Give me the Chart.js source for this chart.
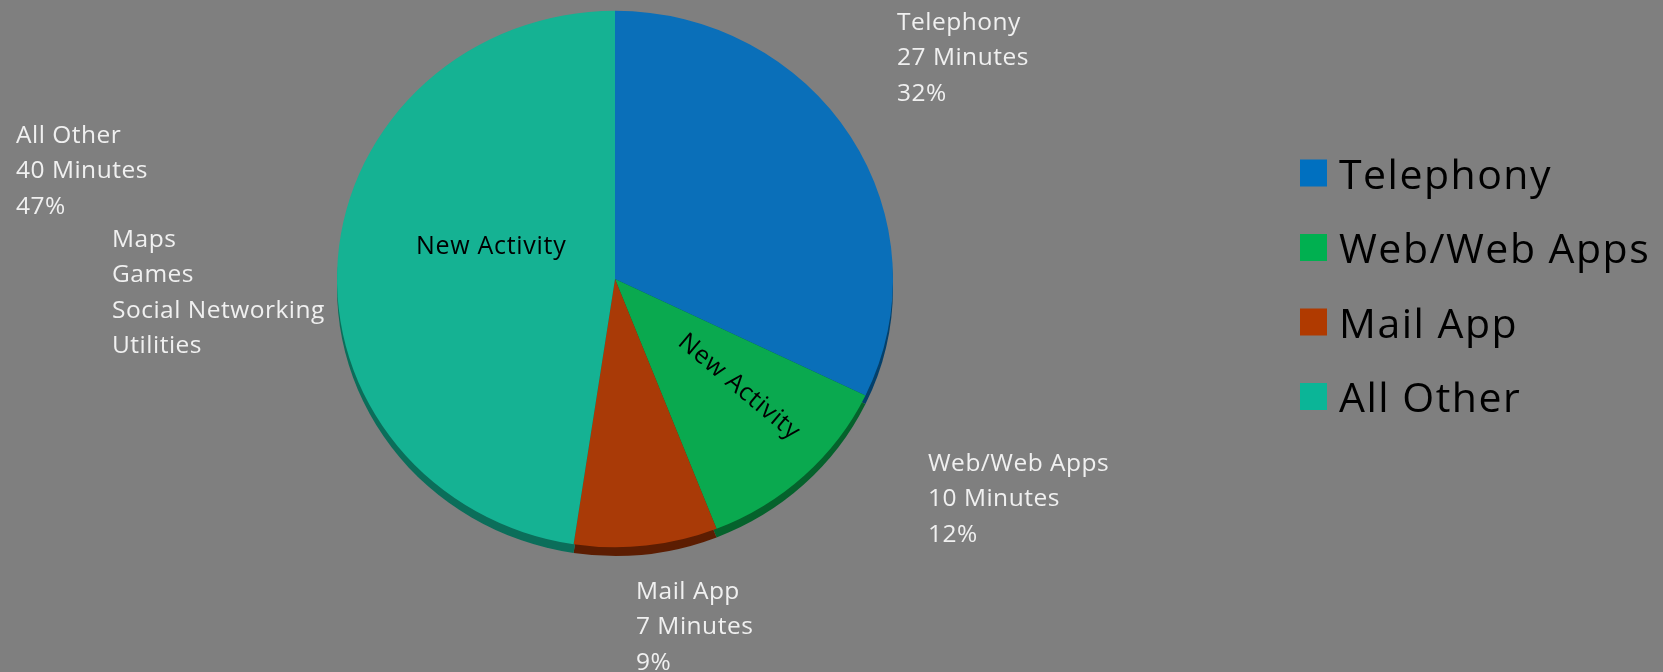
<!DOCTYPE html>
<html>
<head>
<meta charset="utf-8">
<script src="https://cdn.jsdelivr.net/npm/chart.js@4"></script>
<style>
  html, body { margin: 0; padding: 0; background: #7f7f7f; }
  #wrap { width: 1663px; height: 672px; position: relative; }
</style>
</head>
<body>
<div id="wrap"><canvas id="pieChart"></canvas></div>
<script>
// chart data
const categories = ['Telephony', 'Web/Web Apps', 'Mail App', 'All Other'];
const minutes = [27, 10, 7, 40];
const percentLabels = ['32%', '12%', '9%', '47%'];
const sliceColors = ['#0a6fb9', '#0aa94f', '#a93a07', '#15b293'];
const rimColors = ['#04406b', '#05622c', '#5c1d02', '#0b6e5a'];
const legendColors = ['#0070c0', '#00b050', '#b03a00', '#0bb597'];
const otherApps = ['Maps', 'Games', 'Social Networking', 'Utilities'];

const FONT = '"Open Sans", "Noto Sans", sans-serif';
const TILT = 0.965;   // slight vertical squash, like the tilted original

// squash the pie a little and draw a dark rim under it
const rimPlugin = {
    id: 'rim',
    beforeDatasetsDraw(chart) {
        const ctx = chart.ctx;
        const meta = chart.getDatasetMeta(0);
        const c = meta.data[0];
        ctx.save();
        ctx.translate(c.x, c.y);
        ctx.scale(1, TILT);
        ctx.translate(-c.x, -c.y);
        meta.data.forEach((arc, i) => {
            const p = arc.getProps(['x', 'y', 'startAngle', 'endAngle', 'outerRadius']);
            ctx.beginPath();
            ctx.moveTo(p.x, p.y + 9);
            ctx.arc(p.x, p.y + 9, p.outerRadius, p.startAngle, p.endAngle);
            ctx.closePath();
            ctx.fillStyle = rimColors[i];
            ctx.fill();
        });
    },
    afterDatasetsDraw(chart) {
        chart.ctx.restore();
    }
};

// text labels and legend
const labelPlugin = {
    id: 'labels',
    afterDraw(chart) {
        const ctx = chart.ctx;
        ctx.save();
        ctx.textBaseline = 'middle';
        ctx.textAlign = 'left';

        // outside labels
        ctx.fillStyle = '#f0f0f0';
        ctx.font = '24.5px ' + FONT;
        ctx.letterSpacing = '0.5px';
        const spots = [[897, 23], [928, 464], [636, 592], [16, 136]];
        spots.forEach((s, i) => {
            const lines = [categories[i], minutes[i] + ' Minutes', percentLabels[i]];
            lines.forEach((t, j) => ctx.fillText(t, s[0], s[1] + j * 35.5));
        });
        otherApps.forEach((t, j) => ctx.fillText(t, 112, 240 + j * 35.3));

        // "New Activity" notes inside slices
        ctx.fillStyle = '#000';
        ctx.font = '25px ' + FONT;
        ctx.letterSpacing = '0.7px';
        ctx.fillText('New Activity', 416, 247);
        ctx.save();
        ctx.translate(739, 387);
        ctx.rotate(40 * Math.PI / 180);
        ctx.textAlign = 'center';
        ctx.fillText('New Activity', 0, 0);
        ctx.restore();

        // legend
        ctx.font = '41px ' + FONT;
        ctx.letterSpacing = '1.5px';
        categories.forEach((c, i) => {
            const y = 173 + i * 74.5;
            ctx.fillStyle = legendColors[i];
            ctx.fillRect(1300, y - 13.5, 27, 27);
            ctx.fillStyle = '#000';
            ctx.fillText(c, 1339, y + 4);
        });
        ctx.restore();
    }
};

const ctx = document.getElementById('pieChart').getContext('2d');
window.myChart = new Chart(ctx, {
    type: 'pie',
    data: {
        labels: categories,
        datasets: [{
            data: minutes,
            backgroundColor: sliceColors,
            borderWidth: 0,
            clip: false
        }]
    },
    options: {
        responsive: true,
        maintainAspectRatio: false,
        animation: false,
        layout: {
            padding: { left: 337, right: 770, top: 1, bottom: 115 }
        },
        plugins: {
            legend: { display: false },
            tooltip: { enabled: false }
        }
    },
    plugins: [rimPlugin, labelPlugin]
});
</script>
</body>
</html>
